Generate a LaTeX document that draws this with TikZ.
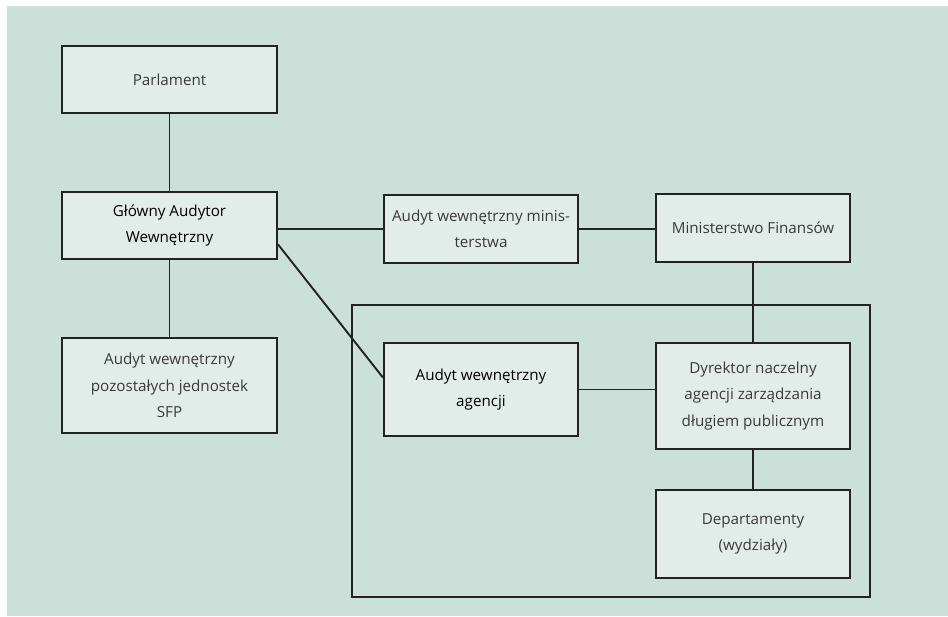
\documentclass[tikz,border=0pt]{standalone}
\usepackage{fontspec}
\setmainfont{Open Sans}
\usepackage{xcolor}
\usepackage{tikz}
\definecolor{backgr}{HTML}{CBE0D9}
\definecolor{boxfill}{HTML}{E2ECE9}
\definecolor{boxline}{HTML}{222222}
\definecolor{lighttext}{HTML}{3A3A3A}

\begin{document}
\begin{tikzpicture}[x=1pt,y=-1pt,
    unit/.style={draw=boxline, line width=2.2pt, fill=boxfill, align=center,
      text=lighttext, font=\fontsize{15.2}{26.5}\selectfont, inner sep=0pt},
    main/.style={unit, text=black},
    link/.style={draw=boxline, line width=1.9pt}]
    \useasboundingbox (0,0) rectangle (948,616);
    \fill[backgr] (7,6) rectangle (948,616);
    % frame round the agency
    \draw[link] (352,305) rectangle (870,597);
    \node [unit, minimum width=215pt, minimum height=67pt] (parl) at (169.5,79.5) {Parlament};
    \node [main, minimum width=215pt, minimum height=67pt] (gaw) at (169.5,225.5) {Główny Audytor\\Wewnętrzny};
    \node [unit, minimum width=215pt, minimum height=95pt] (sfp) at (169.5,385.5) {Audyt wewnętrzny\\pozostałych jednostek\\SFP};
    \node [unit, minimum width=194pt, minimum height=68pt] (awm) at (481,229) {Audyt wewnętrzny minis-\\terstwa};
    \node [unit, minimum width=194pt, minimum height=68pt] (mf) at (753,228) {Ministerstwo Finansów};
    \node [main, minimum width=194pt, minimum height=93pt] (awa) at (481,389.5) {Audyt wewnętrzny\\agencji};
    \node [unit, minimum width=194pt, minimum height=106pt] (dyr) at (753,396) {Dyrektor naczelny\\agencji zarządzania\\długiem publicznym};
    \node [unit, minimum width=194pt, minimum height=88pt] (dep) at (753,534) {Departamenty\\(wydziały)};

    \draw[link] (parl) -- (gaw);
    \draw[link] (gaw) -- (sfp);
    \draw[link] (awm.west) -- (awm.west -| gaw.east);
    \draw[link] (awm.east) -- (awm.east -| mf.west);
    \draw[link] ([yshift=-19pt]gaw.east) -- ([yshift=12pt]awa.west);
    \draw[link] (awa.east) -- (awa.east -| dyr.west);
    \draw[link] (mf) -- (dyr);
    \draw[link] (dyr) -- (dep);
\end{tikzpicture}
\end{document}
